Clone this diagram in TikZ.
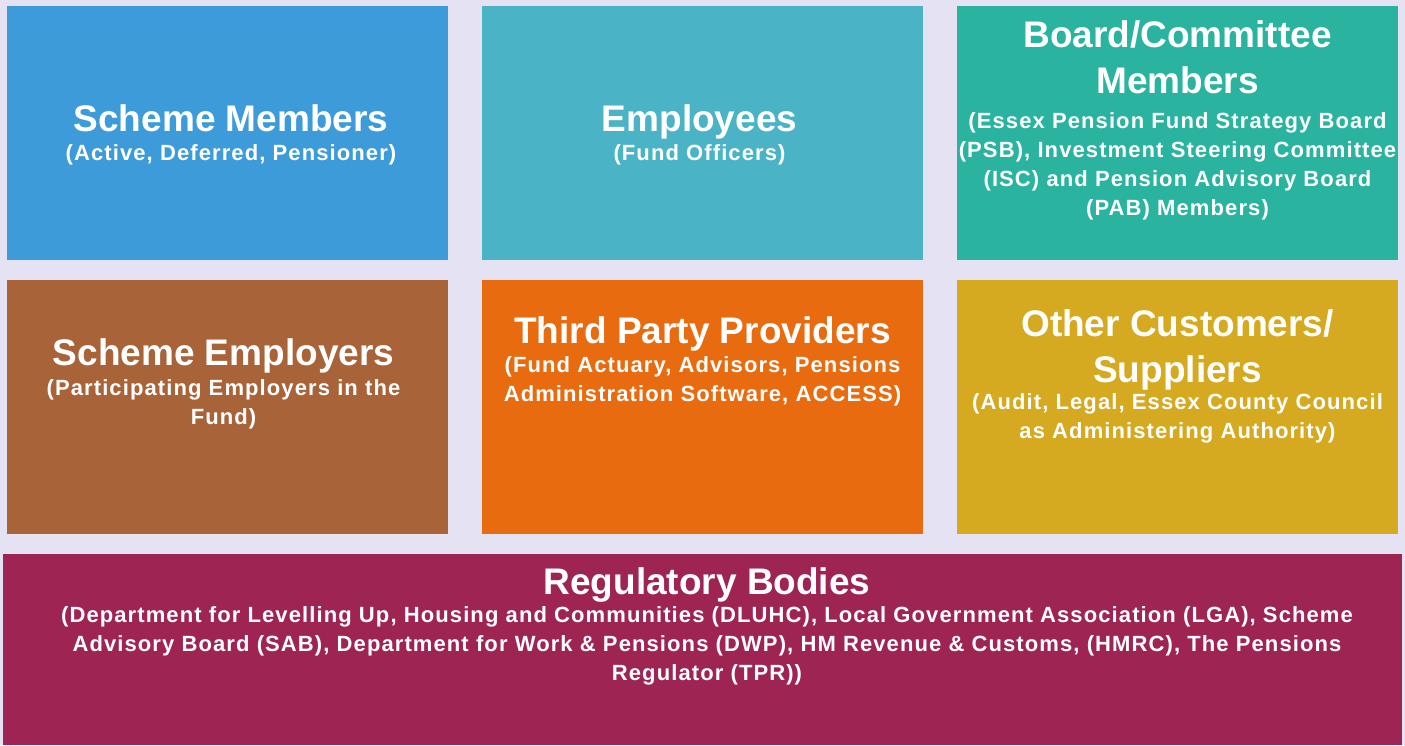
\documentclass[tikz,border=0pt]{standalone}
\usepackage{fontspec}
\setmainfont{Liberation Sans}
\newfontfamily\subfam[LetterSpace=5]{Liberation Sans}
\usetikzlibrary{positioning}
\definecolor{canvas}{HTML}{E5E2F3}
\definecolor{cblue}{HTML}{3E9BDA}
\definecolor{cteal}{HTML}{4AB4C6}
\definecolor{cgreen}{HTML}{2AB39E}
\definecolor{cbrown}{HTML}{A86339}
\definecolor{corange}{HTML}{E96B10}
\definecolor{cgold}{HTML}{D5A920}
\definecolor{cplum}{HTML}{9E2454}

\begin{document}
\begin{tikzpicture}[x=1pt,y=-1pt,
  panel/.style={fill=#1,draw=none,inner sep=0pt,outer sep=0pt,anchor=north west},
  headtext/.style={text=white,align=center,inner sep=0pt,anchor=north,
    font=\fontsize{37}{46}\selectfont\bfseries},
  subtext/.style={text=white,align=center,inner sep=0pt,anchor=north,
    font=\subfam\fontsize{22}{29}\selectfont\bfseries}]
  \fill[canvas] (0,0) rectangle (1405,745);
  \useasboundingbox (0,0) rectangle (1405,745);
  % coloured panels
  \foreach \nm/\col/\x/\y/\w/\h in {members/cblue/7/6/441/254,
      employees/cteal/482/6/441/254, board/cgreen/957/6/441/254,
      employers/cbrown/7/280/441/254, providers/corange/482/280/441/254,
      others/cgold/957/280/441/254, regulators/cplum/3/554/1399/191} {
    \node[panel=\col,minimum width=\w pt,minimum height=\h pt] (\nm) at (\x,\y) {};
  }
  % top row
  \node[headtext] (members-t) at (231,104) {Scheme Members};
  \node[subtext] (members-s) at (231,144.5) {(Active, Deferred, Pensioner)};
  \node[headtext] (employees-t) at (699.5,104) {Employees};
  \node[subtext] (employees-s) at (699.5,144.5) {(Fund Officers)};
  \node[headtext] (board-t) at (1177.5,20) {Board/Committee\\Members};
  \node[subtext] (board-s) at (1177.5,112.5) {(Essex Pension Fund Strategy Board\\(PSB), Investment Steering Committee\\(ISC) and Pension Advisory Board\\(PAB) Members)};
  % middle row
  \node[headtext] (employers-t) at (223.5,338) {Scheme Employers};
  \node[subtext] (employers-s) at (223.5,379) {(Participating Employers in the\\Fund)};
  \node[headtext] (providers-t) at (702.5,316.5) {Third Party Providers};
  \node[subtext] (providers-s) at (702.5,356.5) {(Fund Actuary, Advisors, Pensions\\Administration Software, ACCESS)};
  \node[headtext] (others-t) at (1177.5,309.5) {Other Customers/\\Suppliers};
  \node[subtext] (others-s) at (1177.5,393.5) {(Audit, Legal, Essex County Council\\as Administering Authority)};
  % bottom band
  \node[headtext] (regulators-t) at (707,567.5) {Regulatory Bodies};
  \node[subtext] (regulators-s) at (707,606.5) {(Department for Levelling Up, Housing and Communities (DLUHC), Local Government Association (LGA), Scheme\\Advisory Board (SAB), Department for Work \& Pensions (DWP), HM Revenue \& Customs, (HMRC), The Pensions\\Regulator (TPR))};
\end{tikzpicture}
\end{document}
